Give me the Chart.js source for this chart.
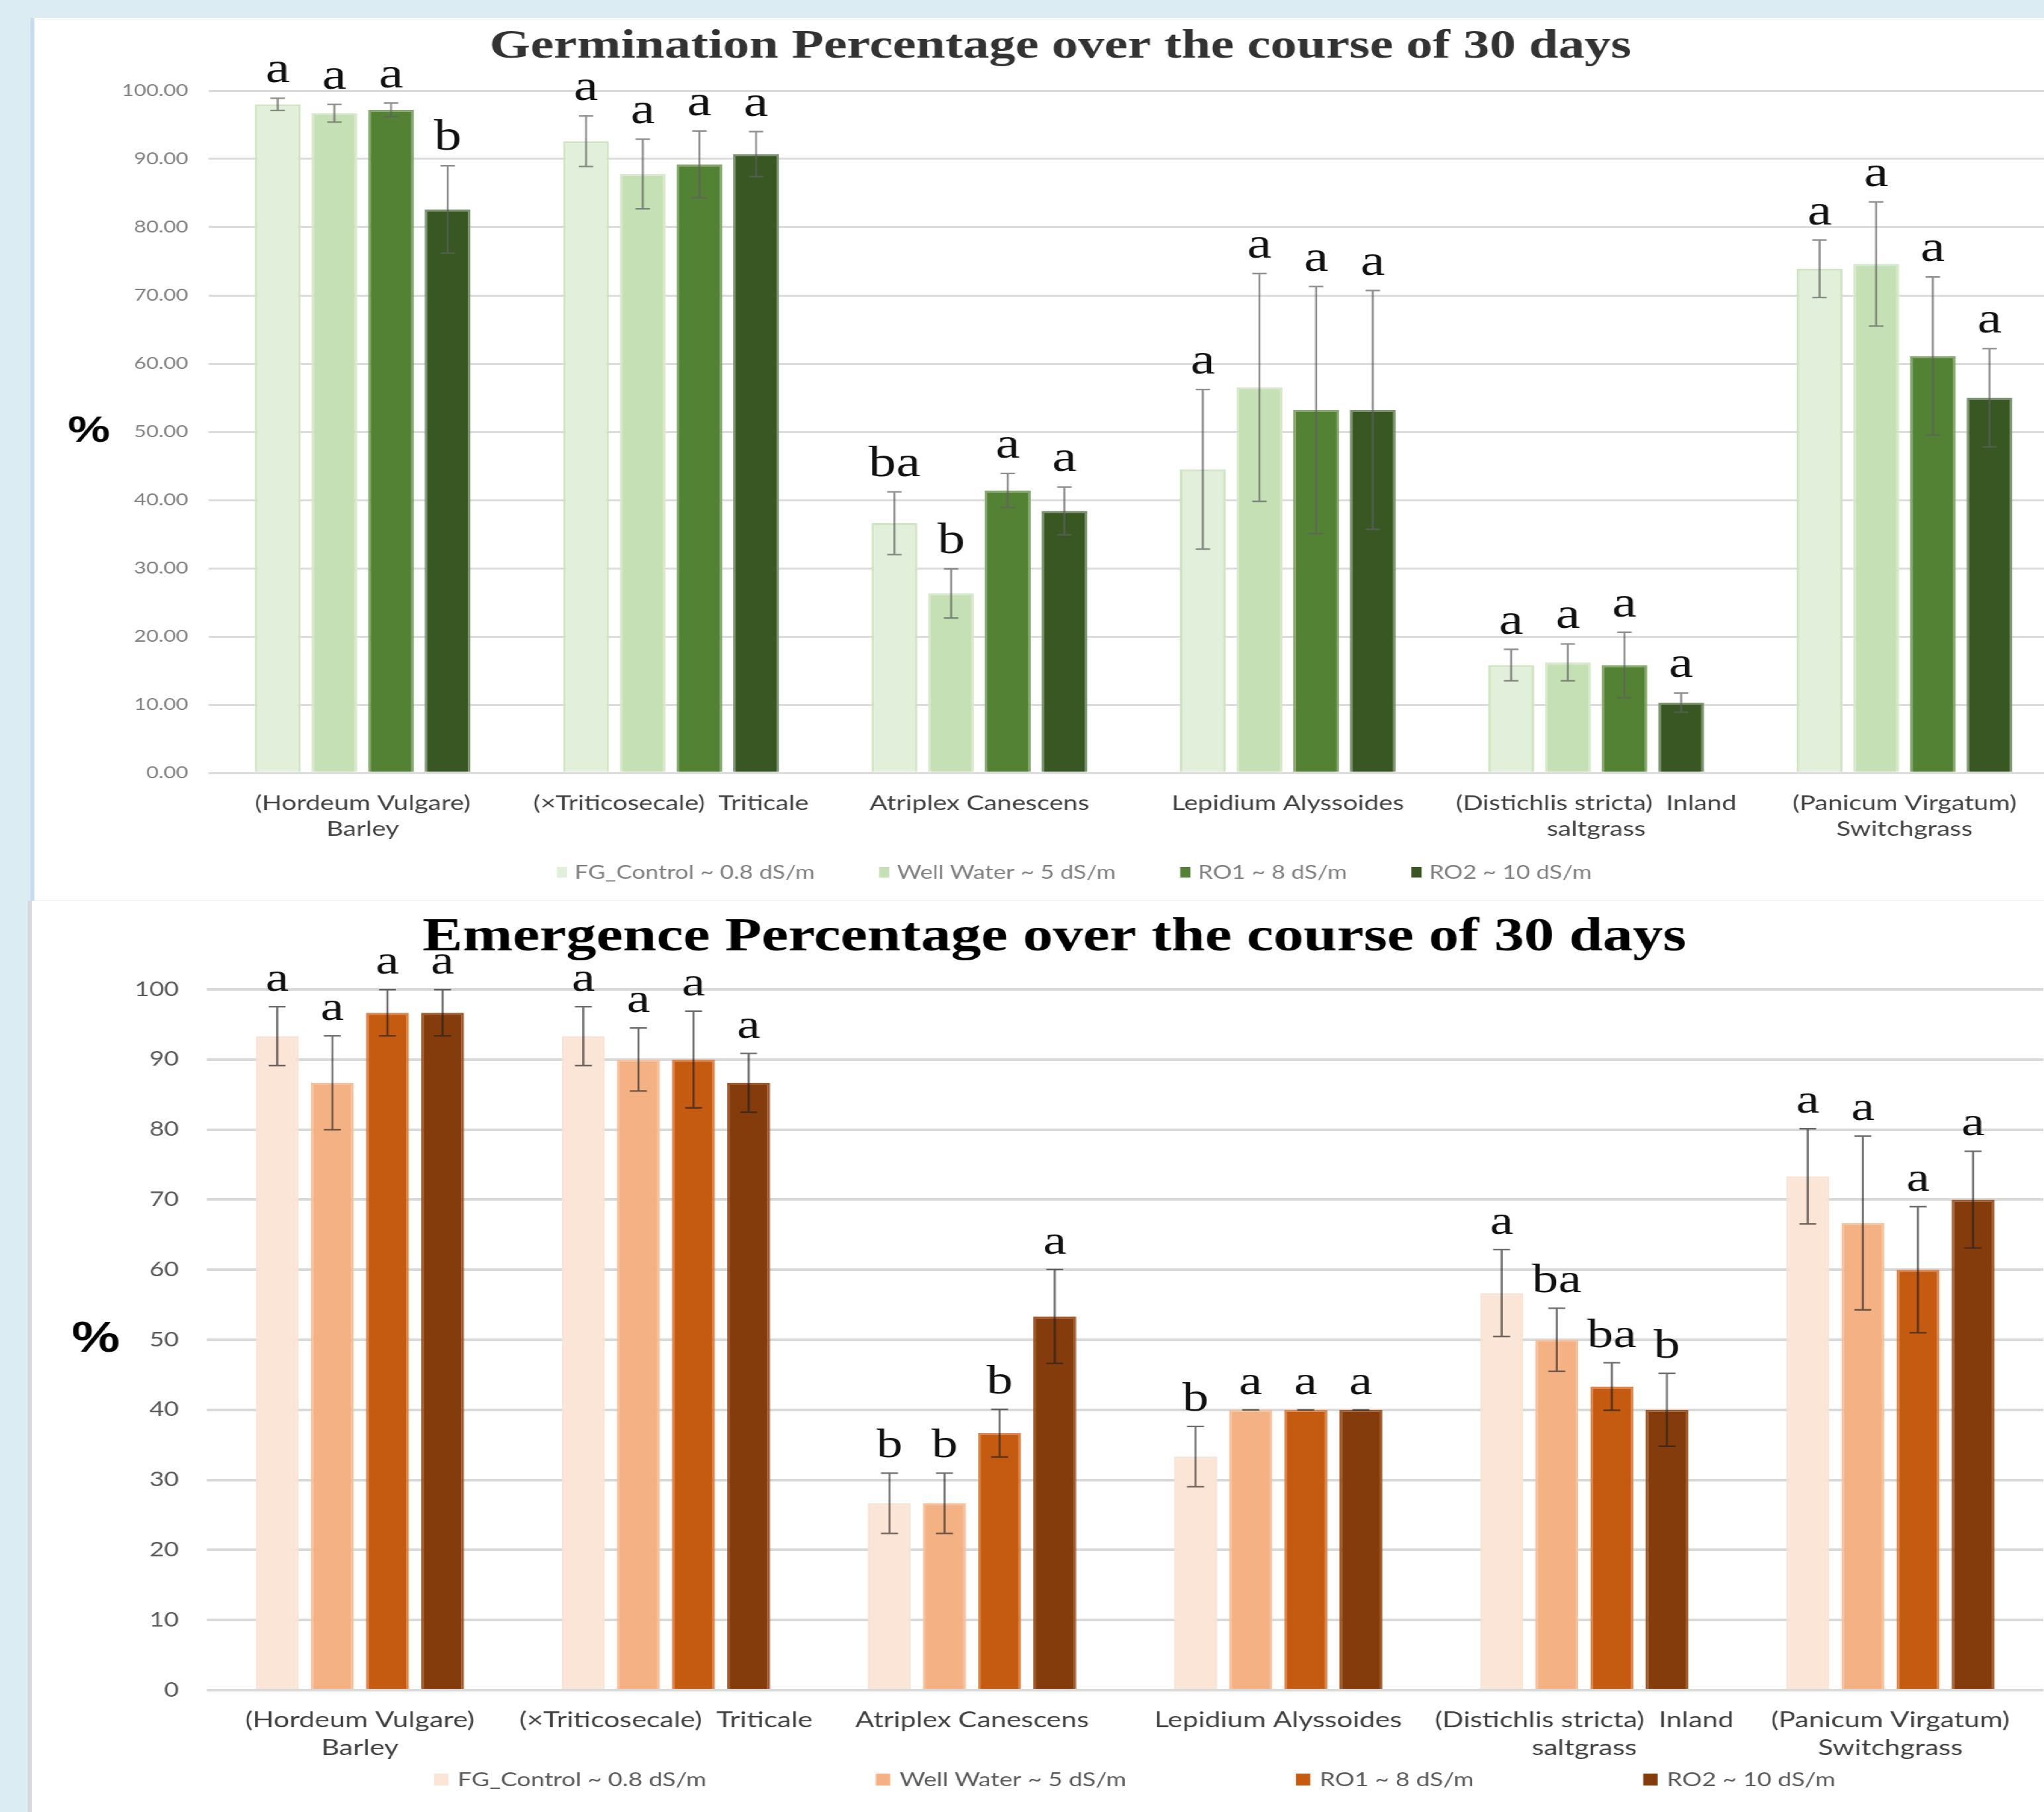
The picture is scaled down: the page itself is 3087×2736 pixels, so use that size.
<!DOCTYPE html>
<html>
<head>
<meta charset="utf-8">
<title>Germination and Emergence Percentage over 30 days</title>
<script src="https://cdn.jsdelivr.net/npm/chart.js@4.4.1/dist/chart.umd.min.js"></script>
<style>
  html, body { margin: 0; padding: 0; overflow: hidden; }
  body { width: 3087px; height: 2736px; background: #dbecf2; position: relative; }
  .sheet { position: absolute; left: 46px; top: 27px; width: 3041px; height: 2709px; background: #ffffff; }
  .panel { position: absolute; left: 50px; background: #ffffff; transform: scaleX(1.28); transform-origin: 0 0; }
  #germPanel { top: 27px; width: 2390px; height: 1332px; border-bottom: 1px solid #f2f2f2; }
  #emerPanel { top: 1360px; width: 2372px; height: 1376px; }
  .edgeTop { position: absolute; left: 46px; top: 27px; width: 6px; height: 1333px; background: #c9d9ee; }
  .edgeBottom { position: absolute; left: 42px; top: 1360px; width: 6px; height: 1376px; background: #d6d9dd; }
</style>
</head>
<body>
<div class="sheet"></div>
<div class="panel" id="germPanel"><canvas id="germChart"></canvas></div>
<div class="panel" id="emerPanel"><canvas id="emerChart"></canvas></div>
<div class="edgeTop"></div>
<div class="edgeBottom"></div>
<script>
// categories (x axis) and series names
const species = [
  ['(Hordeum Vulgare)', 'Barley'],
  '(\u00d7Triticosecale)  Triticale',
  'Atriplex Canescens',
  'Lepidium Alyssoides',
  ['(Distichlis stricta)  Inland', 'saltgrass'],
  ['(Panicum Virgatum)', 'Switchgrass']
];
const treatments = ['FG_Control ~ 0.8 dS/m', 'Well Water ~ 5 dS/m', 'RO1 ~ 8 dS/m', 'RO2 ~ 10 dS/m'];

// Germination %
const germFG  = [98.0, 92.6, 36.6, 44.5, 15.8, 73.9];
const germWW  = [96.7, 87.8, 26.3, 56.5, 16.2, 74.6];
const germRO1 = [97.2, 89.2, 41.4, 53.2, 15.8, 61.1];
const germRO2 = [82.6, 90.7, 38.4, 53.2, 10.3, 55.0];
const germFGErr  = [0.9, 3.7, 4.6, 11.7, 2.3, 4.2];
const germWWErr  = [1.3, 5.1, 3.6, 16.7, 2.7, 9.1];
const germRO1Err = [1.0, 4.9, 2.5, 18.1, 4.8, 11.6];
const germRO2Err = [6.4, 3.3, 3.5, 17.5, 1.4, 7.2];
const germFGSig  = ['a', 'a', 'ba', 'a', 'a', 'a'];
const germWWSig  = ['a', 'a', 'b', 'a', 'a', 'a'];
const germRO1Sig = ['a', 'a', 'a', 'a', 'a', 'a'];
const germRO2Sig = ['b', 'a', 'a', 'a', 'a', 'a'];

// Emergence %
const emerFG  = [93.33, 93.33, 26.67, 33.33, 56.67, 73.33];
const emerWW  = [86.67, 90.0, 26.67, 40.0, 50.0, 66.67];
const emerRO1 = [96.67, 90.0, 36.67, 40.0, 43.33, 60.0];
const emerRO2 = [96.67, 86.67, 53.33, 40.0, 40.0, 70.0];
const emerFGErr  = [4.2, 4.2, 4.3, 4.3, 6.2, 6.8];
const emerWWErr  = [6.7, 4.5, 4.3, 0, 4.5, 12.4];
const emerRO1Err = [3.3, 6.9, 3.4, 0, 3.4, 9.0];
const emerRO2Err = [3.3, 4.2, 6.7, 0, 5.2, 6.9];
const emerFGSig  = ['a', 'a', 'b', 'b', 'a', 'a'];
const emerWWSig  = ['a', 'a', 'b', 'a', 'ba', 'a'];
const emerRO1Sig = ['a', 'a', 'b', 'a', 'ba', 'a'];
const emerRO2Sig = ['a', 'a', 'a', 'a', 'b', 'a'];

// error bars, significance letters, title, % label and legend
const figureExtras = {
  id: 'figureExtras',
  afterDatasetsDraw(chart, args, opts) {
    const ctx = chart.ctx;
    const yScale = chart.scales.y;
    ctx.save();
    chart.data.datasets.forEach((ds, i) => {
      chart.getDatasetMeta(i).data.forEach((bar, j) => {
        const v = ds.data[j], e = ds.errors[j];
        const top = yScale.getPixelForValue(v + e);
        const bot = yScale.getPixelForValue(v - e);
        ctx.strokeStyle = opts.errColor;
        ctx.lineWidth = opts.errWidth;
        ctx.beginPath();
        ctx.moveTo(bar.x, top); ctx.lineTo(bar.x, bot);
        ctx.moveTo(bar.x - opts.capHalf, top); ctx.lineTo(bar.x + opts.capHalf, top);
        ctx.moveTo(bar.x - opts.capHalf, bot); ctx.lineTo(bar.x + opts.capHalf, bot);
        ctx.stroke();
        ctx.fillStyle = '#111111';
        ctx.font = opts.letterFont;
        ctx.textAlign = 'center';
        ctx.textBaseline = 'alphabetic';
        ctx.fillText(ds.sig[j], bar.x, top - opts.letterGap);
      });
    });
    ctx.restore();
  },
  afterDraw(chart, args, opts) {
    const ctx = chart.ctx;
    const yScale = chart.scales.y;
    ctx.save();
    ctx.textAlign = 'center';
    ctx.textBaseline = 'alphabetic';
    ctx.font = opts.titleFont;
    ctx.fillStyle = opts.titleColor;
    ctx.fillText(opts.title, opts.titleX, opts.titleY);

    ctx.font = opts.unitFont;
    ctx.fillStyle = '#000000';
    ctx.textBaseline = 'middle';
    ctx.fillText('%', opts.unitX, yScale.getPixelForValue((yScale.min + yScale.max) / 2));

    ctx.font = opts.legendFont;
    ctx.textAlign = 'left';
    let x = opts.legendX;
    chart.data.datasets.forEach(ds => {
      ctx.fillStyle = ds.backgroundColor;
      ctx.fillRect(x, opts.legendY - opts.boxH / 2, opts.boxW, opts.boxH);
      x += opts.boxW + opts.boxGap;
      ctx.fillStyle = opts.legendColor;
      ctx.fillText(ds.label, x, opts.legendY + 1);
      x += ctx.measureText(ds.label).width + opts.itemGap;
    });
    ctx.restore();
  }
};

function makeDataset(i, values, errors, sig, fill, edge) {
  return {
    label: treatments[i],
    data: values,
    errors: errors,
    sig: sig,
    backgroundColor: fill,
    borderColor: edge,
    borderWidth: 3
  };
}

// Germination chart
new Chart(document.getElementById('germChart'), {
  type: 'bar',
  data: {
    labels: species,
    datasets: [
      makeDataset(0, germFG, germFGErr, germFGSig, '#e2efda', '#cfe4c1'),
      makeDataset(1, germWW, germWWErr, germWWSig, '#c5e0b4', '#d6e9ca'),
      makeDataset(2, germRO1, germRO1Err, germRO1Sig, '#548235', '#86a86f'),
      makeDataset(3, germRO2, germRO2Err, germRO2Sig, '#385723', '#7b9470')
    ]
  },
  options: {
    responsive: true,
    maintainAspectRatio: false,
    animation: false,
    layout: { padding: { top: 110, bottom: 0, left: 0, right: 0 } },
    datasets: { bar: { categoryPercentage: 0.735, barPercentage: 0.81 } },
    scales: {
      x: {
        grid: { display: false },
        border: { display: false },
        ticks: {
          autoSkip: false, maxRotation: 0, padding: 18,
          color: '#404040', font: { family: 'Lato', size: 31, lineHeight: 1.27 }
        },
        afterFit: s => { s.height = 192; }
      },
      y: {
        min: 0, max: 100,
        border: { display: false },
        grid: { color: '#dcdcdc', lineWidth: 3, drawTicks: false },
        ticks: {
          stepSize: 10, padding: 24, color: '#808080',
          font: { family: 'Lato', size: 25 },
          callback: v => v.toFixed(2)
        },
        afterFit: s => { s.width = 207; }
      }
    },
    plugins: {
      legend: { display: false },
      tooltip: { enabled: false },
      figureExtras: {
        errColor: 'rgba(95,95,95,0.7)', errWidth: 2.4, capHalf: 8.5,
        letterFont: '65px "Liberation Serif"', letterGap: 24,
        title: 'Germination Percentage over the course of 30 days',
        titleFont: 'bold 62px "Liberation Serif"', titleColor: '#333333',
        titleX: 1212, titleY: 60,
        unitFont: 'bold 56px "Liberation Sans"', unitX: 66,
        legendFont: '28px Lato', legendColor: '#7f7f7f',
        legendX: 618, legendY: 1290, boxW: 12, boxH: 16, boxGap: 9, itemGap: 76
      }
    }
  },
  plugins: [figureExtras]
});

// Emergence chart
new Chart(document.getElementById('emerChart'), {
  type: 'bar',
  data: {
    labels: species,
    datasets: [
      makeDataset(0, emerFG, emerFGErr, emerFGSig, '#fbe5d6', '#f9e3d4'),
      makeDataset(1, emerWW, emerWWErr, emerWWSig, '#f4b183', '#f6c19c'),
      makeDataset(2, emerRO1, emerRO1Err, emerRO1Sig, '#c55a11', '#dd8549'),
      makeDataset(3, emerRO2, emerRO2Err, emerRO2Sig, '#843c0c', '#a0592b')
    ]
  },
  options: {
    responsive: true,
    maintainAspectRatio: false,
    animation: false,
    layout: { padding: { top: 134, bottom: 0, left: 0, right: 0 } },
    datasets: { bar: { categoryPercentage: 0.72, barPercentage: 0.78 } },
    scales: {
      x: {
        grid: { display: false },
        border: { display: false },
        ticks: {
          autoSkip: false, maxRotation: 0, padding: 17,
          color: '#404040', font: { family: 'Lato', size: 33, lineHeight: 1.26 }
        },
        afterFit: s => { s.height = 184; }
      },
      y: {
        min: 0, max: 100,
        border: { display: false },
        grid: { color: '#d9d9d9', lineWidth: 4, drawTicks: false },
        ticks: {
          stepSize: 10, padding: 33, color: '#595959',
          font: { family: 'Lato', size: 30 }
        },
        afterFit: s => { s.width = 205; }
      }
    },
    plugins: {
      legend: { display: false },
      tooltip: { enabled: false },
      figureExtras: {
        errColor: 'rgba(30,30,30,0.65)', errWidth: 2.4, capHalf: 10,
        letterFont: '62px "Liberation Serif"', letterGap: 24,
        title: 'Emergence Percentage over the course of 30 days',
        titleFont: 'bold 71px "Liberation Serif"', titleColor: '#000000',
        titleX: 1205, titleY: 75,
        unitFont: 'bold 64px "Liberation Sans"', unitX: 74,
        legendFont: '29px Lato', legendColor: '#595959',
        legendX: 473, legendY: 1327, boxW: 17, boxH: 18, boxGap: 11, itemGap: 200
      }
    }
  },
  plugins: [figureExtras]
});
</script>
</body>
</html>
